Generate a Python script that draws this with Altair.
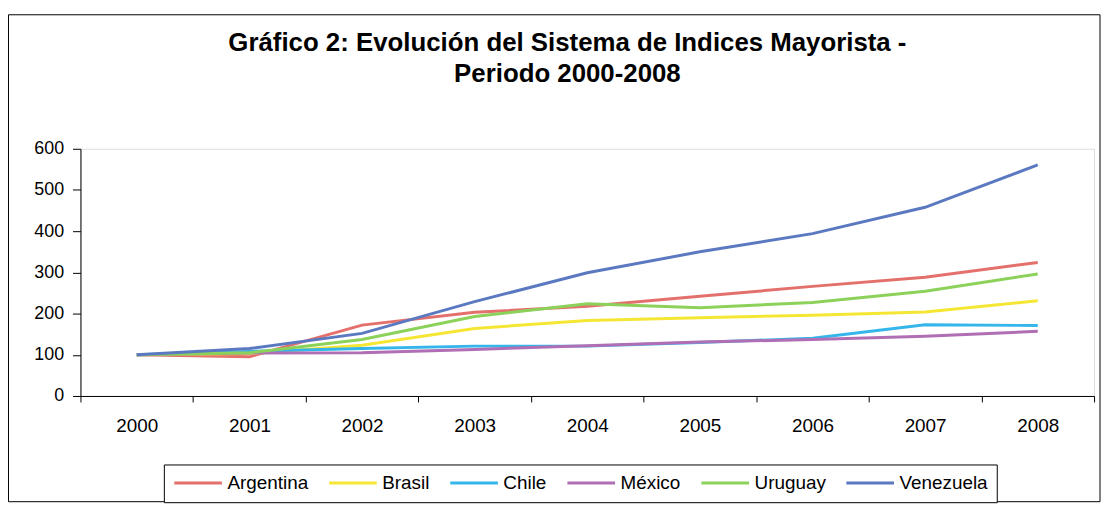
import altair as alt
import pandas as pd

years = ["2000", "2001", "2002", "2003", "2004", "2005", "2006", "2007", "2008"]
argentina = [100, 95, 172, 203, 218, 242, 266, 288, 324]
brasil = [100, 103, 123, 164, 183, 190, 196, 204, 231]
chile = [100, 108, 115, 121, 121, 130, 140, 173, 171]
mexico = [100, 104, 105, 113, 122, 131, 137, 145, 157]
uruguay = [100, 105, 137, 193, 224, 214, 227, 254, 296]
venezuela = [100, 115, 152, 229, 299, 350, 394, 458, 561]

countries = ["Argentina", "Brasil", "Chile", "México", "Uruguay", "Venezuela"]
series = [argentina, brasil, chile, mexico, uruguay, venezuela]
colors = ["#E4706C", "#F6E634", "#35B6EA", "#B06EB4", "#8CD25A", "#5B79C0"]

rows = []
for c, vals in zip(countries, series):
    for y, v in zip(years, vals):
        rows.append({"Año": y, "Valor": v, "País": c})
df = pd.DataFrame(rows)

W, H = 1021, 249
FONT = "Liberation Sans"

lines = alt.Chart(df).mark_line(strokeWidth=3).encode(
    x=alt.X("Año:O", sort=years, bandPosition=0.5,
            scale=alt.Scale(type="band", paddingInner=0, paddingOuter=0),
            axis=alt.Axis(title=None, labelAngle=0, tickBand="extent",
                          labelFontSize=19, labelFont=FONT, labelColor="black",
                          domainColor="black", tickColor="black", tickSize=6,
                          labelPadding=15, grid=False)),
    y=alt.Y("Valor:Q", scale=alt.Scale(domain=[0, 600], nice=False),
            axis=alt.Axis(title=None, values=[0, 100, 200, 300, 400, 500, 600],
                          labelFontSize=18, labelFont=FONT, labelColor="black",
                          domainColor="black", tickColor="black", tickSize=8,
                          labelPadding=9, grid=False)),
    color=alt.Color("País:N", sort=countries,
                    scale=alt.Scale(domain=countries, range=colors),
                    legend=alt.Legend(title=None, orient="none", direction="horizontal",
                                      legendX=84, legendY=318,
                                      symbolType="M-1,0L5,0", symbolSize=256,
                                      symbolStrokeWidth=3, labelFontSize=19,
                                      labelFont=FONT, labelColor="black",
                                      labelOffset=36, columnPadding=14,
                                      padding=9, strokeColor="black",
                                      fillColor="white")),
)

frame = alt.Chart(pd.DataFrame({"a": [0]})).mark_rect(
    fill=None, stroke="black", strokeWidth=1
).encode(
    x=alt.value(-72.5), x2=alt.value(1027), y=alt.value(-135), y2=alt.value(355.5)
)

chart = alt.layer(frame, lines).properties(
    width=W, height=H,
    autosize=alt.AutoSizeParams(type="none"),
    padding={"left": 73, "top": 140, "right": 7, "bottom": 107},
    title=alt.TitleParams(
        text=["Gráfico 2: Evolución del Sistema de Indices Mayorista -",
              "Periodo 2000-2008"],
        font=FONT, fontSize=26, fontWeight="bold", color="black",
        anchor="middle", lineHeight=31, offset=-73, dx=-20, frame="group"),
).configure_view(stroke="transparent", strokeWidth=0).configure(background="white")

chart.save("out.html", embed_options={"renderer": "svg", "actions": False})
